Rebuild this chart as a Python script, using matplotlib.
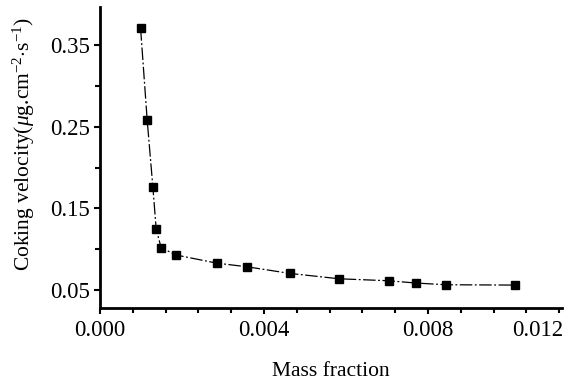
import matplotlib
matplotlib.use("Agg")
import matplotlib.pyplot as plt
from matplotlib.ticker import MultipleLocator, FixedLocator
import matplotlib.transforms as mtransforms

plt.rcParams['font.family'] = ['Liberation Serif', 'DejaVu Serif']
plt.rcParams['mathtext.fontset'] = 'custom'
plt.rcParams['mathtext.rm'] = 'Liberation Serif'
plt.rcParams['mathtext.it'] = 'Liberation Serif:italic'

# data
mass_fraction = [0.00099, 0.00115, 0.00129, 0.00137, 0.00149, 0.00185, 0.00285,
                 0.00359, 0.00463, 0.00584, 0.00704, 0.00771, 0.00844, 0.01012]
coking_velocity = [0.371, 0.259, 0.176, 0.125, 0.102, 0.093, 0.083,
                   0.0785, 0.0704, 0.0638, 0.0614, 0.0586, 0.0565, 0.0561]
x_ticks = [0.000, 0.004, 0.008]
x_ticklabels = ["0.000", "0.004", "0.008"]
y_ticks = [0.05, 0.15, 0.25, 0.35]
y_ticklabels = ["0.05", "0.15", "0.25", "0.35"]

fig = plt.figure(figsize=(5.68, 3.83), dpi=100)
ax = fig.add_axes([100/568, 1-308/383, 462/568, 301/383])

ax.plot(mass_fraction, coking_velocity, color='black', lw=0.9,
        linestyle=(0, (10, 2, 1.5, 2)), marker='s', ms=5.5,
        markerfacecolor='black', markeredgecolor='black')

ax.set_xlim(0, 0.01127)
ax.set_ylim(0.028, 0.397)

ax.xaxis.set_major_locator(FixedLocator(x_ticks))
ax.set_xticklabels(x_ticklabels)
ax.xaxis.set_minor_locator(MultipleLocator(0.0008))
ax.yaxis.set_major_locator(FixedLocator(y_ticks))
ax.set_yticklabels(y_ticklabels)
ax.yaxis.set_minor_locator(MultipleLocator(0.05))

for s in ['top', 'right']:
    ax.spines[s].set_visible(False)
for s in ['left', 'bottom']:
    ax.spines[s].set_linewidth(2.0)

ax.tick_params(axis='both', which='major', direction='out', length=4, width=1.5,
               labelsize=16.5)
ax.tick_params(axis='x', which='major', pad=5)
ax.tick_params(axis='y', which='major', pad=3)
ax.tick_params(axis='both', which='minor', direction='out', length=3.5, width=1.5)

# right-most label as it appears in the picture
trans = mtransforms.blended_transform_factory(ax.transData, ax.transAxes)
ax.annotate("0.012", xy=(0.01068, 0), xycoords=trans, xytext=(0, -9),
            textcoords='offset points', ha='center', va='top', fontsize=16.5)

ax.set_xlabel("Mass fraction", fontsize=15.5, labelpad=15)
ax.set_ylabel(r"Coking velocity($\mu$g.cm$^{-2}$$\cdot$s$^{-1}$)", fontsize=15.5)
ax.yaxis.set_label_coords(-0.137, 0.545)

fig.savefig("out.png", dpi=100)
